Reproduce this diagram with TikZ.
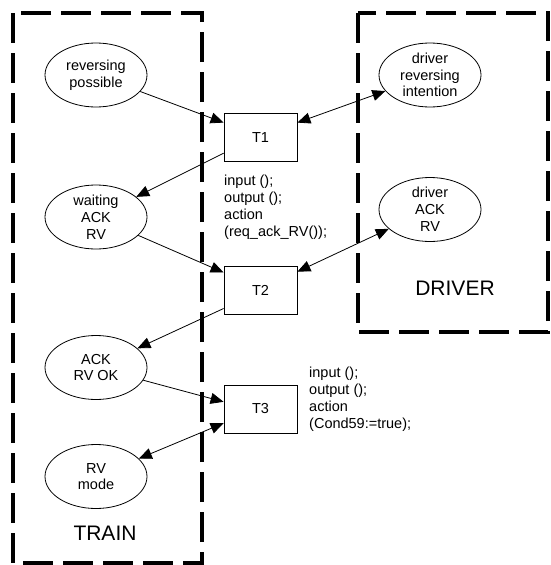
\documentclass[tikz,border=0pt]{standalone}
\usepackage{fontspec}
\setmainfont{Liberation Sans}
\usetikzlibrary{arrows.meta, shapes.geometric}
\tikzset{
  place/.style  = {ellipse, draw, line width=0.8pt, minimum width=102pt,
                   minimum height=64pt, inner sep=-2pt, align=center,
                   font=\fontsize{14.5}{16.8}\selectfont},
  trans/.style  = {rectangle, draw, line width=0.8pt, minimum width=73pt,
                   minimum height=48pt, inner sep=0pt,
                   font=\fontsize{14.5}{16.8}\selectfont},
  note/.style   = {anchor=north west, align=left, inner sep=0pt,
                   font=\fontsize{14.5}{16.8}\selectfont},
  group/.style  = {draw, line width=4pt, dash pattern=on 30pt off 10pt},
  glabel/.style = {inner sep=0pt, font=\fontsize{21}{25}\selectfont},
  arrow/.style  = {-{Triangle[length=13pt,width=11pt]}, line width=0.8pt},
  darrow/.style = {{Triangle[length=13pt,width=11pt]}-{Triangle[length=13pt,width=11pt]},
                   line width=0.8pt},
}

\begin{document}
\begin{tikzpicture}[x=1pt, y=-1pt]

\useasboundingbox (0,0) rectangle (550,565);

% the two parts
\draw[group] (13,13) rectangle (202,563);
\draw[group] (358,13) rectangle (548,332);
\node[glabel] (train)  at (105,533) {TRAIN};
\node[glabel] (driver) at (455,288) {DRIVER};

% places
\node[place] (revposs) at (96,75)    {reversing\\possible};
\node[place] (waitack) at (96,217)   {waiting\\ACK\\RV};
\node[place] (ackok)   at (96,367.5) {ACK\\RV OK};
\node[place] (rvmode)  at (96,476.5) {RV\\mode};
\node[place] (drvrev)  at (430,75)   {driver\\reversing\\intention};
\node[place] (drvack)  at (430,209.5) {driver\\ACK\\RV};

% transitions
\node[trans] (t1) at (260.5,137.5) {T1};
\node[trans] (t2) at (260.5,290.5) {T2};
\node[trans] (t3) at (260.5,409)   {T3};

\node[note] (t1note) at (224,175) {input ();\\output ();\\action\\(req\_ack\_RV());};
\node[note] (t3note) at (309,367) {input ();\\output ();\\action\\(Cond59:=true);};

% arcs
\draw[arrow]  (revposs) -- (t1.158);
\draw[arrow]  (t1.203) -- (waitack);
\draw[arrow]  (waitack) -- (t2.154);
\draw[arrow]  (t2.206) -- (ackok);
\draw[arrow]  (ackok) -- (t3.169);
\draw[darrow] (t3.201) -- (rvmode);
\draw[darrow] (t1.22) -- (drvrev);
\draw[darrow] (t2.27) -- (drvack);

\end{tikzpicture}
\end{document}
